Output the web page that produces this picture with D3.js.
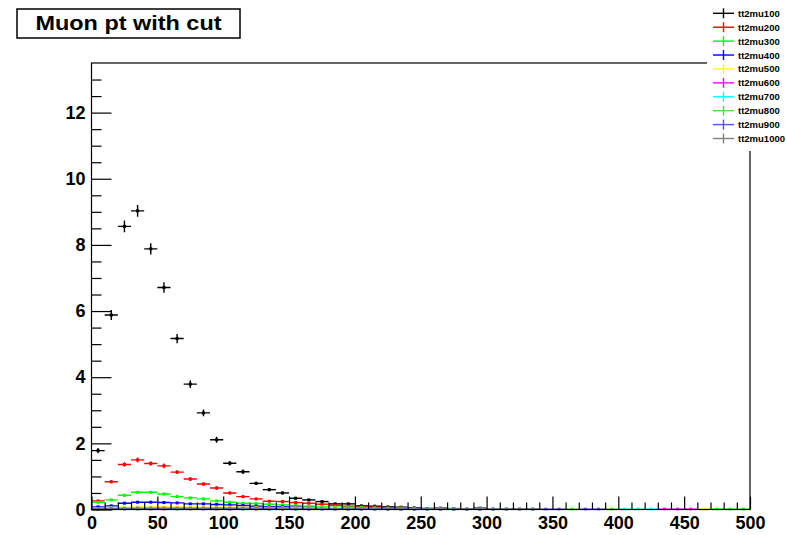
<!DOCTYPE html>
<html>
<head>
<meta charset="utf-8">
<script src="https://cdn.jsdelivr.net/npm/d3@7/dist/d3.min.js"></script>
<style>
  html, body { margin: 0; padding: 0; background: #ffffff; }
  svg { display: block; }
  text { font-family: "Liberation Sans", Arial, Helvetica, sans-serif; font-weight: bold; }
</style>
</head>
<body>
<svg id="chart" width="786" height="535"></svg>
<script>
// Muon pT histograms, 50 bins of 10 GeV from 0 to 500 (bin centres 5 ... 495).
const binWidth = 10;
const xDomain = [0, 500];
const yDomain = [0, 13.5];
const xMajorTicks = [0, 50, 100, 150, 200, 250, 300, 350, 400, 450, 500];
const yMajorTicks = [0, 2, 4, 6, 8, 10, 12];
const title = "Muon pt with cut";

const seriesNames = ["tt2mu100", "tt2mu200", "tt2mu300", "tt2mu400", "tt2mu500",
                     "tt2mu600", "tt2mu700", "tt2mu800", "tt2mu900", "tt2mu1000"];
const seriesColors = ["#000000", "#ff0000", "#00ff00", "#0000ff", "#ffff00",
                      "#ff00ff", "#00ffff", "#59d454", "#5954d9", "#808080"];

// bin contents per sample (0 = empty bin, not drawn)
const mu100 = [1.78, 5.88, 8.56, 9.03, 7.88, 6.71, 5.17, 3.79, 2.92, 2.11,
               1.40, 1.14, 0.79, 0.60, 0.50, 0.34, 0.29, 0.24, 0.17, 0.17,
               0.11, 0.10, 0.08, 0.07, 0.05, 0.03, 0.04, 0.02, 0, 0.04,
               0, 0, 0, 0, 0, 0, 0, 0, 0, 0,
               0, 0, 0, 0, 0, 0, 0, 0, 0, 0];
const mu200 = [0.26, 0.84, 1.36, 1.50, 1.39, 1.32, 1.13, 0.92, 0.77, 0.65,
               0.50, 0.39, 0.32, 0.25, 0.24, 0.21, 0.19, 0.16, 0.13, 0.10,
               0.08, 0.07, 0.05, 0.05, 0.03, 0.03, 0.02, 0.03, 0, 0,
               0, 0, 0, 0, 0, 0, 0, 0, 0, 0,
               0, 0, 0, 0, 0, 0, 0, 0, 0, 0];
const mu300 = [0.22, 0.29, 0.43, 0.52, 0.52, 0.47, 0.39, 0.35, 0.32, 0.26,
               0.22, 0.19, 0.18, 0.16, 0.14, 0.12, 0.10, 0.08, 0.07, 0.07,
               0.06, 0.05, 0.04, 0.04, 0.03, 0, 0, 0, 0, 0,
               0, 0, 0, 0, 0, 0, 0, 0, 0, 0,
               0, 0, 0, 0, 0, 0, 0, 0.01, 0.01, 0.01];
const mu400 = [0.08, 0.11, 0.19, 0.22, 0.22, 0.21, 0.20, 0.17, 0.17, 0.15,
               0.14, 0.12, 0.10, 0.08, 0.08, 0.07, 0.06, 0.05, 0.04, 0.04,
               0.03, 0.03, 0.03, 0.02, 0, 0, 0, 0, 0, 0,
               0, 0, 0, 0, 0, 0, 0, 0, 0, 0,
               0, 0, 0, 0, 0, 0, 0, 0, 0, 0];
const mu500 = [0.03, 0.05, 0.07, 0.08, 0.08, 0.08, 0.08, 0.08, 0.07, 0.07,
               0.07, 0.06, 0.06, 0.05, 0.05, 0.05, 0.05, 0.05, 0.05, 0.04,
               0.03, 0.02, 0.02, 0.02, 0.01, 0, 0, 0, 0, 0,
               0, 0, 0, 0, 0, 0, 0, 0, 0, 0,
               0, 0, 0, 0, 0, 0, 0.01, 0, 0, 0];
const mu600 = [0.02, 0.03, 0.03, 0.04, 0.04, 0.04, 0.04, 0.04, 0.04, 0.04,
               0.04, 0.04, 0.04, 0.04, 0.04, 0.03, 0.03, 0.03, 0.02, 0.02,
               0.02, 0.02, 0.02, 0.02, 0.01, 0.01, 0.01, 0.01, 0.01, 0.01,
               0, 0, 0, 0, 0, 0, 0, 0, 0, 0,
               0, 0, 0, 0.01, 0.01, 0.01, 0, 0, 0, 0];
const mu700 = [0.02, 0.03, 0.04, 0.04, 0.04, 0.03, 0.03, 0.03, 0.03, 0.03,
               0.03, 0.03, 0.03, 0.03, 0.02, 0.02, 0.02, 0.02, 0.02, 0.02,
               0.02, 0.02, 0.01, 0.01, 0.01, 0.01, 0.01, 0.01, 0.01, 0.01,
               0.01, 0.01, 0, 0, 0, 0, 0, 0, 0, 0,
               0.01, 0.01, 0.01, 0, 0, 0, 0, 0, 0, 0];
const mu800 = [0.02, 0.02, 0.03, 0.03, 0.03, 0.03, 0.03, 0.03, 0.03, 0.03,
               0.02, 0.02, 0.02, 0.02, 0.02, 0.02, 0.02, 0.02, 0.02, 0.02,
               0.01, 0.01, 0.01, 0.01, 0.01, 0.01, 0.01, 0.01, 0.01, 0.01,
               0.01, 0.01, 0.01, 0.01, 0, 0, 0.01, 0, 0, 0.01,
               0, 0, 0, 0, 0, 0, 0, 0, 0, 0];
const mu900 = [0.01, 0.02, 0.02, 0.02, 0.02, 0.02, 0.02, 0.02, 0.02, 0.02,
               0.02, 0.02, 0.02, 0.02, 0.01, 0.01, 0.01, 0.01, 0.01, 0.01,
               0.01, 0.01, 0.01, 0.01, 0.01, 0.01, 0.01, 0.01, 0.01, 0.01,
               0.01, 0.01, 0.01, 0.01, 0.01, 0.01, 0, 0.01, 0.01, 0,
               0, 0, 0, 0, 0, 0, 0, 0, 0, 0];
const mu1000 = [0.01, 0.01, 0.01, 0.01, 0.01, 0.01, 0.01, 0.01, 0.01, 0.01,
                0.01, 0.01, 0.01, 0.01, 0.01, 0.01, 0.01, 0.01, 0.01, 0.01,
                0.01, 0.01, 0.01, 0.01, 0.01, 0.01, 0.01, 0.01, 0.01, 0.01,
                0.01, 0.01, 0.01, 0.01, 0, 0, 0, 0, 0, 0,
                0, 0, 0, 0, 0, 0, 0, 0, 0, 0];

// statistical errors of the three largest samples (others are below a pixel)
const mu100Err = [0.08, 0.15, 0.18, 0.18, 0.17, 0.16, 0.14, 0.12, 0.10, 0.09,
                  0.07, 0.07, 0.05, 0.05, 0.04, 0.04, 0.03, 0.03, 0.03, 0.03,
                  0.02, 0.02, 0.02, 0.02, 0.02, 0.01, 0.01, 0.01, 0, 0.01];
const mu200Err = [0.03, 0.05, 0.07, 0.07, 0.07, 0.07, 0.06, 0.06, 0.05, 0.05,
                  0.04, 0.04, 0.03, 0.03, 0.03, 0.03, 0.03, 0.02, 0.02, 0.02];
const mu300Err = [0.03, 0.03, 0.04, 0.04, 0.04, 0.04, 0.04, 0.03, 0.03, 0.03,
                  0.03, 0.03, 0.03, 0.02, 0.02, 0.02];

const seriesValues = [mu100, mu200, mu300, mu400, mu500, mu600, mu700, mu800, mu900, mu1000];
const seriesErrors = [mu100Err, mu200Err, mu300Err, [], [], [], [], [], [], []];

const svg = d3.select("#chart");

const frame = { left: 91.5, right: 750, top: 63, bottom: 509.5 };
const x = d3.scaleLinear().domain(xDomain).range([frame.left, frame.right]);
const y = d3.scaleLinear().domain(yDomain).range([frame.bottom, frame.top]);

// clip region for histogram marks
svg.append("defs").append("clipPath").attr("id", "plotClip")
  .append("rect")
  .attr("x", frame.left).attr("y", frame.top)
  .attr("width", frame.right - frame.left).attr("height", frame.bottom - frame.top + 1);

// histograms drawn as error-bar crosses, one group per sample
const plot = svg.append("g").attr("clip-path", "url(#plotClip)");
seriesValues.forEach((vals, s) => {
  const errs = seriesErrors[s];
  const bins = vals.map((v, i) => ({
    lo: xDomain[0] + i * binWidth,
    hi: xDomain[0] + (i + 1) * binWidth,
    c: xDomain[0] + (i + 0.5) * binWidth,
    v: v,
    e: errs[i] || 0
  })).filter(d => d.v > 0);
  const g = plot.append("g")
    .attr("stroke", seriesColors[s])
    .attr("fill", seriesColors[s])
    .attr("stroke-width", 1.4);
  g.selectAll("line.h").data(bins).join("line").attr("class", "h")
    .attr("x1", d => x(d.lo)).attr("x2", d => x(d.hi))
    .attr("y1", d => y(d.v)).attr("y2", d => y(d.v));
  g.selectAll("line.v").data(bins.filter(d => d.e > 0)).join("line").attr("class", "v")
    .attr("x1", d => x(d.c)).attr("x2", d => x(d.c))
    .attr("y1", d => y(d.v - d.e)).attr("y2", d => y(d.v + d.e));
  g.selectAll("rect.m").data(bins).join("rect").attr("class", "m")
    .attr("stroke", "none")
    .attr("x", d => x(d.c) - 1.5).attr("y", d => y(d.v) - 1.5)
    .attr("width", 3).attr("height", 3);
});

// frame
svg.append("rect")
  .attr("x", frame.left).attr("y", frame.top)
  .attr("width", frame.right - frame.left).attr("height", frame.bottom - frame.top)
  .attr("fill", "none").attr("stroke", "#000").attr("stroke-width", 1.2);

// x axis: major ticks with labels, minor ticks every bin
const xMinor = d3.range(xDomain[0], xDomain[1] + 1, binWidth).filter(v => !xMajorTicks.includes(v));
const xAxisG = svg.append("g").attr("transform", `translate(0,${frame.bottom})`)
  .call(d3.axisBottom(x).tickValues(xMajorTicks).tickSize(-13).tickPadding(7).tickFormat(d3.format("d")));
svg.append("g").attr("transform", `translate(0,${frame.bottom})`)
  .call(d3.axisBottom(x).tickValues(xMinor).tickSize(-7).tickFormat(""));

// y axis
const yMinor = d3.range(0.5, yDomain[1], 0.5).filter(v => !yMajorTicks.includes(v));
const yAxisG = svg.append("g").attr("transform", `translate(${frame.left},0)`)
  .call(d3.axisLeft(y).tickValues(yMajorTicks).tickSize(-20).tickPadding(6).tickFormat(d3.format("d")));
svg.append("g").attr("transform", `translate(${frame.left},0)`)
  .call(d3.axisLeft(y).tickValues(yMinor).tickSize(-10).tickFormat(""));

svg.selectAll(".domain").remove();
svg.selectAll(".tick line").attr("stroke", "#000").attr("stroke-width", 1.2);
svg.selectAll(".tick text").attr("fill", "#000")
  .style("font-size", "18px").style("font-weight", "bold")
  .style("font-family", "'Liberation Sans', Arial, sans-serif");

// title box
svg.append("rect").attr("x", 17).attr("y", 9).attr("width", 223).attr("height", 29)
  .attr("fill", "#fff").attr("stroke", "#000").attr("stroke-width", 1.5);
svg.append("text").attr("x", 128.5).attr("y", 29.5).attr("text-anchor", "middle")
  .style("font-size", "20px").attr("textLength", 186).attr("lengthAdjust", "spacingAndGlyphs")
  .text(title);

// legend
const legend = svg.append("g");
legend.append("rect").attr("x", 707).attr("y", 0).attr("width", 79).attr("height", 151)
  .attr("fill", "#fff");
const rowY = d3.scaleLinear().domain([0, seriesNames.length - 1]).range([13.3, 138.5]);
seriesNames.forEach((name, i) => {
  const yy = rowY(i);
  const row = legend.append("g").attr("stroke", seriesColors[i]).attr("stroke-width", 1.4);
  row.append("line").attr("x1", 713).attr("x2", 734).attr("y1", yy).attr("y2", yy);
  row.append("line").attr("x1", 723.5).attr("x2", 723.5).attr("y1", yy - 5).attr("y2", yy + 5);
  legend.append("text").attr("x", 738).attr("y", yy + 3.5)
    .style("font-size", "9.5px").attr("fill", "#000").text(name);
});
</script>
</body>
</html>
